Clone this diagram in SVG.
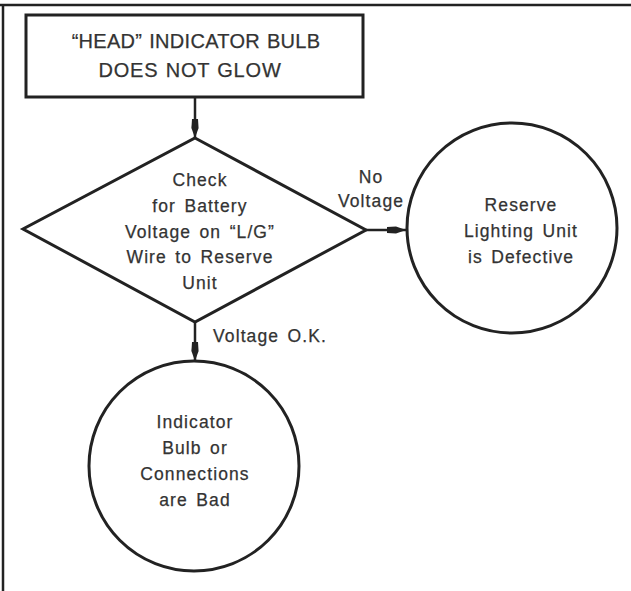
<svg xmlns="http://www.w3.org/2000/svg" width="631" height="591" viewBox="0 0 631 591">
<style>
.shape{fill:none;stroke:#222;stroke-width:3;stroke-linejoin:miter}
.conn{fill:none;stroke:#222;stroke-width:2.5}
.t{font-family:"Liberation Sans",Arial,sans-serif;fill:#333;stroke:#333;stroke-width:0.25;text-anchor:middle;font-size:17.5px;letter-spacing:1.1px;word-spacing:2.5px}
.h{font-size:20px;letter-spacing:0.3px;word-spacing:1px}
.h2{letter-spacing:0.8px}
.lbl{text-anchor:start}
</style>
<defs>
<marker id="arr" markerUnits="userSpaceOnUse" markerWidth="22" markerHeight="10" viewBox="0 -5 20 10" refX="19" refY="0" orient="auto">
<path d="M0,-3 L9,-3.6 L19,0 L9,3.6 L0,3 z" fill="#222"/>
</marker>
</defs>
<rect width="631" height="591" fill="#fff"/>
<g id="frame">
<path d="M0,5 H631 M3,5 V591" fill="none" stroke="#222" stroke-width="2.5"/>
</g>
<g id="connectors">
<path class="conn" d="M195,97 V138" marker-end="url(#arr)"/>
<path class="conn" d="M366,230 H406" marker-end="url(#arr)"/>
<path class="conn" d="M195,322 V361" marker-end="url(#arr)"/>
<text class="t" x="371" y="183">No</text>
<text class="t" x="371" y="207">Voltage</text>
<text class="t lbl" x="213" y="342">Voltage O.K.</text>
</g>
<g id="start">
<rect class="shape" x="26" y="15" width="337" height="82" stroke-width="2.5"/>
<text class="t h" x="196" y="48">“HEAD” INDICATOR BULB</text>
<text class="t h h2" x="190" y="77">DOES NOT GLOW</text>
</g>
<g id="check">
<path class="shape" d="M195,138 L366,230 L195,322 L23,229 Z"/>
<text class="t" x="200" y="186">Check</text>
<text class="t" x="200" y="212">for Battery</text>
<text class="t" x="200" y="238">Voltage on “L/G”</text>
<text class="t" x="200" y="263">Wire to Reserve</text>
<text class="t" x="200" y="289">Unit</text>
</g>
<g id="reserve">
<circle class="shape" cx="512" cy="228" r="105"/>
<text class="t" x="521" y="211">Reserve</text>
<text class="t" x="521" y="237">Lighting Unit</text>
<text class="t" x="521" y="263">is Defective</text>
</g>
<g id="indicator">
<circle class="shape" cx="194" cy="466" r="105"/>
<text class="t" x="195" y="428">Indicator</text>
<text class="t" x="195" y="454">Bulb or</text>
<text class="t" x="195" y="480">Connections</text>
<text class="t" x="195" y="506">are Bad</text>
</g>
</svg>
